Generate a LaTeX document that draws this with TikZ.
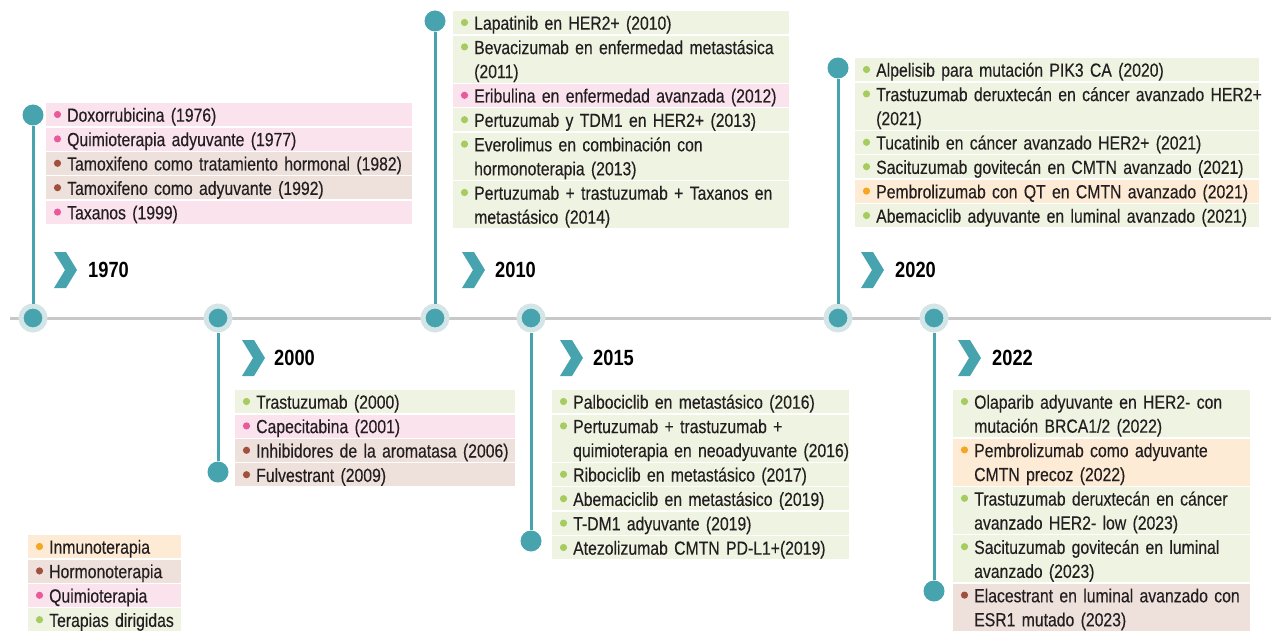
\documentclass[tikz,border=0pt]{standalone}
\usepackage{fontspec}
\setmainfont{Liberation Sans}[FakeStretch=0.83, UprightFeatures={FakeBold=0.3}]
\definecolor{ink}{HTML}{231F20}
\definecolor{teal}{HTML}{47A3AD}
\definecolor{halo}{HTML}{D3E5E7}
\definecolor{axis}{HTML}{C8C8C8}
\definecolor{greenbg}{HTML}{EEF3E2}
\definecolor{greendot}{HTML}{A6CB5F}
\definecolor{pinkbg}{HTML}{FBE3EE}
\definecolor{pinkdot}{HTML}{E85A9B}
\definecolor{brownbg}{HTML}{EEE0DB}
\definecolor{browndot}{HTML}{A0503C}
\definecolor{orangebg}{HTML}{FEEBD5}
\definecolor{orangedot}{HTML}{F5A623}
\newcommand\entryfont{\fontsize{19}{24}\selectfont}
% one coloured entry: name, kind, width, position, text
\newcommand\entry[5]{%
  \node[entry=#3, fill=#2bg] (#1) at #4 {#5};
  \fill[#2dot] ([xshift=11.5pt,yshift=-11.5pt]#1.north west) circle (3.6);}
\begin{document}
\begin{tikzpicture}[x=1pt,y=-1pt,
  entry/.style={anchor=north west, inner xsep=0pt, inner ysep=-0.5pt,
    text width=#1, font=\entryfont, text=ink,
    execute at begin node={\raggedright\leftskip=21pt\rightskip=-40pt plus 1fil\rule{0pt}{19pt}},
    execute at end node={\rule[-5pt]{0pt}{5pt}}},
  year/.style={anchor=west, inner sep=0pt, font=\fontsize{22}{24}\selectfont\bfseries, text=black},
  mainpt/.style={circle, fill=teal, draw=halo, line width=5pt, minimum size=24pt, inner sep=0pt},
  endpt/.style={circle, fill=teal, minimum size=21pt, inner sep=0pt},
  conn/.style={draw=teal, line width=3pt},
  chev/.pic={\fill[teal] (0,-18) -- (12,-18) -- (23,0) -- (12,18) -- (0,18) -- (11,0) -- cycle;}]
\useasboundingbox (0,0) rectangle (1271,631);

% time axis
\coordinate (axstart) at (10,318);
\coordinate (axend) at (1271,318);
\draw[axis, line width=3pt] (axstart) -- (axend);

% milestones on the axis and their end points
\node[mainpt] (t1970) at (33,318) {};
\node[mainpt] (t2000) at (218,318) {};
\node[mainpt] (t2010) at (435,318) {};
\node[mainpt] (t2015) at (531,318) {};
\node[mainpt] (t2020) at (838,318) {};
\node[mainpt] (t2022) at (934,318) {};
\node[endpt] (e1970) at (33,115) {};
\node[endpt] (e2000) at (218,472) {};
\node[endpt] (e2010) at (435,21) {};
\node[endpt] (e2015) at (531,541) {};
\node[endpt] (e2020) at (838,68) {};
\node[endpt] (e2022) at (934,591) {};
\draw[conn] (t1970) -- (e1970);
\draw[conn] (t2000) -- (e2000);
\draw[conn] (t2010) -- (e2010);
\draw[conn] (t2015) -- (e2015);
\draw[conn] (t2020) -- (e2020);
\draw[conn] (t2022) -- (e2022);

% year headings
\pic at (54,270) {chev}; \node[year] (y1970) at (88,270) {1970};
\pic at (242,358) {chev}; \node[year] (y2000) at (274,358) {2000};
\pic at (462,270) {chev}; \node[year] (y2010) at (495,270) {2010};
\pic at (560,358) {chev}; \node[year] (y2015) at (593,358) {2015};
\pic at (861,270) {chev}; \node[year] (y2020) at (895,270) {2020};
\pic at (958,358) {chev}; \node[year] (y2022) at (992,358) {2022};

% 1970
\entry{a1}{pink}{366}{(46,103)}{Doxorrubicina (1976)}
\entry{a2}{pink}{366}{([yshift=-1pt]a1.south west)}{Quimioterapia adyuvante (1977)}
\entry{a3}{brown}{366}{([yshift=-1pt]a2.south west)}{Tamoxifeno como tratamiento hormonal (1982)}
\entry{a4}{brown}{366}{([yshift=-1pt]a3.south west)}{Tamoxifeno como adyuvante (1992)}
\entry{a5}{pink}{366}{([yshift=-1pt]a4.south west)}{Taxanos (1999)}

% 2000
\entry{b1}{green}{280}{(235,390)}{Trastuzumab (2000)}
\entry{b2}{pink}{280}{([yshift=-1pt]b1.south west)}{Capecitabina (2001)}
\entry{b3}{brown}{280}{([yshift=-1pt]b2.south west)}{Inhibidores de la aromatasa (2006)}
\entry{b4}{brown}{280}{([yshift=-1pt]b3.south west)}{Fulvestrant (2009)}

% 2010
\entry{c1}{green}{336}{(453,11)}{Lapatinib en HER2+ (2010)}
\entry{c2}{green}{336}{([yshift=-1pt]c1.south west)}{Bevacizumab en enfermedad metastásica\\(2011)}
\entry{c3}{pink}{336}{([yshift=-1pt]c2.south west)}{Eribulina en enfermedad avanzada (2012)}
\entry{c4}{green}{336}{([yshift=-1pt]c3.south west)}{Pertuzumab y TDM1 en HER2+ (2013)}
\entry{c5}{green}{336}{([yshift=-1pt]c4.south west)}{Everolimus en combinación con\\hormonoterapia (2013)}
\entry{c6}{green}{336}{([yshift=-1pt]c5.south west)}{Pertuzumab + trastuzumab + Taxanos en\\metastásico (2014)}

% 2015
\entry{d1}{green}{297}{(552,390)}{Palbociclib en metastásico (2016)}
\entry{d2}{green}{297}{([yshift=-1pt]d1.south west)}{Pertuzumab + trastuzumab +\\quimioterapia en neoadyuvante (2016)}
\entry{d3}{green}{297}{([yshift=-1pt]d2.south west)}{Ribociclib en metastásico (2017)}
\entry{d4}{green}{297}{([yshift=-1pt]d3.south west)}{Abemaciclib en metastásico (2019)}
\entry{d5}{green}{297}{([yshift=-1pt]d4.south west)}{T-DM1 adyuvante (2019)}
\entry{d6}{green}{297}{([yshift=-1pt]d5.south west)}{Atezolizumab CMTN PD-L1+(2019)}

% 2020
\entry{f1}{green}{404}{(855,58)}{Alpelisib para mutación PIK3 CA (2020)}
\entry{f2}{green}{404}{([yshift=-1pt]f1.south west)}{Trastuzumab deruxtecán en cáncer avanzado HER2+\\(2021)}
\entry{f3}{green}{404}{([yshift=-1pt]f2.south west)}{Tucatinib en cáncer avanzado HER2+ (2021)}
\entry{f4}{green}{404}{([yshift=-1pt]f3.south west)}{Sacituzumab govitecán en CMTN avanzado (2021)}
\entry{f5}{orange}{404}{([yshift=-1pt]f4.south west)}{Pembrolizumab con QT en CMTN avanzado (2021)}
\entry{f6}{green}{404}{([yshift=-1pt]f5.south west)}{Abemaciclib adyuvante en luminal avanzado (2021)}

% 2022
\entry{g1}{green}{297}{(953,390)}{Olaparib adyuvante en HER2- con\\mutación BRCA1/2 (2022)}
\entry{g2}{orange}{297}{([yshift=-1pt]g1.south west)}{Pembrolizumab como adyuvante\\CMTN precoz (2022)}
\entry{g3}{green}{297}{([yshift=-1pt]g2.south west)}{Trastuzumab deruxtecán en cáncer\\avanzado HER2- low (2023)}
\entry{g4}{green}{297}{([yshift=-1pt]g3.south west)}{Sacituzumab govitecán en luminal\\avanzado (2023)}
\entry{g5}{brown}{297}{([yshift=-1pt]g4.south west)}{Elacestrant en luminal avanzado con\\ESR1 mutado (2023)}

% legend
\entry{k1}{orange}{153}{(28,535)}{Inmunoterapia}
\entry{k2}{brown}{153}{([yshift=-1pt]k1.south west)}{Hormonoterapia}
\entry{k3}{pink}{153}{([yshift=-1pt]k2.south west)}{Quimioterapia}
\entry{k4}{green}{153}{([yshift=-1pt]k3.south west)}{Terapias dirigidas}
\end{tikzpicture}
\end{document}
